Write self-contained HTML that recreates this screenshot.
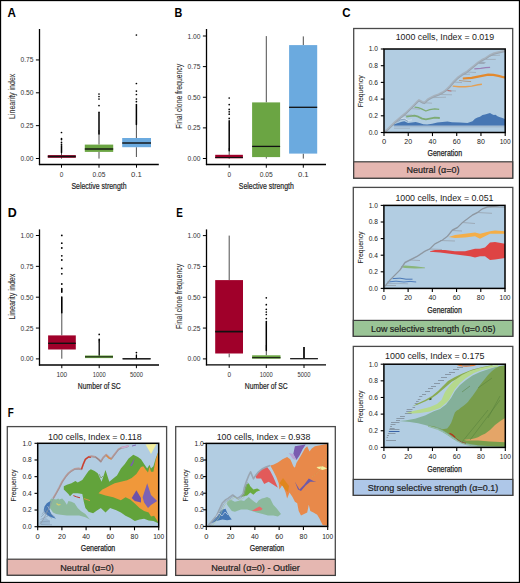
<!DOCTYPE html>
<html><head><meta charset="utf-8"><title>Figure</title>
<style>
html,body{margin:0;padding:0;background:#fff;}
svg{display:block;}
text{font-family:"Liberation Sans",sans-serif;}
</style></head>
<body>
<svg width="520" height="583" viewBox="0 0 520 583">
<rect x="0" y="0" width="520" height="583" fill="#fff"/>
<text x="7.50" y="16.70" font-size="12.0" font-weight="bold" text-anchor="start" fill="#000" textLength="8.40" lengthAdjust="spacingAndGlyphs" >A</text>
<text x="174.60" y="16.50" font-size="12.0" font-weight="bold" text-anchor="start" fill="#000" textLength="7.80" lengthAdjust="spacingAndGlyphs" >B</text>
<text x="342.30" y="16.80" font-size="12.0" font-weight="bold" text-anchor="start" fill="#000" textLength="8.30" lengthAdjust="spacingAndGlyphs" >C</text>
<text x="7.80" y="216.90" font-size="12.0" font-weight="bold" text-anchor="start" fill="#000" textLength="9.00" lengthAdjust="spacingAndGlyphs" >D</text>
<text x="176.20" y="216.90" font-size="12.0" font-weight="bold" text-anchor="start" fill="#000" textLength="6.60" lengthAdjust="spacingAndGlyphs" >E</text>
<text x="7.80" y="417.10" font-size="12.0" font-weight="bold" text-anchor="start" fill="#000" textLength="6.00" lengthAdjust="spacingAndGlyphs" >F</text>
<line x1="39.50" y1="29.00" x2="39.50" y2="165.10" stroke="#000" stroke-width="1.3" />
<line x1="38.90" y1="164.50" x2="158.80" y2="164.50" stroke="#000" stroke-width="1.3" />
<line x1="35.90" y1="59.95" x2="39.50" y2="59.95" stroke="#000" stroke-width="1.0" />
<text x="33.50" y="62.45" font-size="7.7" font-weight="normal" text-anchor="end" fill="#333" textLength="13.00" lengthAdjust="spacingAndGlyphs" >0.75</text>
<line x1="35.90" y1="92.80" x2="39.50" y2="92.80" stroke="#000" stroke-width="1.0" />
<text x="33.50" y="95.30" font-size="7.7" font-weight="normal" text-anchor="end" fill="#333" textLength="13.00" lengthAdjust="spacingAndGlyphs" >0.50</text>
<line x1="35.90" y1="125.65" x2="39.50" y2="125.65" stroke="#000" stroke-width="1.0" />
<text x="33.50" y="128.15" font-size="7.7" font-weight="normal" text-anchor="end" fill="#333" textLength="13.00" lengthAdjust="spacingAndGlyphs" >0.25</text>
<line x1="35.90" y1="158.50" x2="39.50" y2="158.50" stroke="#000" stroke-width="1.0" />
<text x="33.50" y="161.00" font-size="7.7" font-weight="normal" text-anchor="end" fill="#333" textLength="13.00" lengthAdjust="spacingAndGlyphs" >0.00</text>
<line x1="61.50" y1="164.50" x2="61.50" y2="167.70" stroke="#000" stroke-width="1.0" />
<text x="61.50" y="176.80" font-size="7.5" font-weight="normal" text-anchor="middle" fill="#333" textLength="3.60" lengthAdjust="spacingAndGlyphs" >0</text>
<line x1="99.00" y1="164.50" x2="99.00" y2="167.70" stroke="#000" stroke-width="1.0" />
<text x="99.00" y="176.80" font-size="7.5" font-weight="normal" text-anchor="middle" fill="#333" textLength="13.00" lengthAdjust="spacingAndGlyphs" >0.05</text>
<line x1="136.50" y1="164.50" x2="136.50" y2="167.70" stroke="#000" stroke-width="1.0" />
<text x="136.50" y="176.80" font-size="7.5" font-weight="normal" text-anchor="middle" fill="#333" textLength="10.80" lengthAdjust="spacingAndGlyphs" >0.1</text>
<text x="15.00" y="96.30" font-size="9.2" font-weight="normal" text-anchor="middle" fill="#2a2a2a" textLength="45.20" lengthAdjust="spacingAndGlyphs" transform="rotate(-90 15.00 96.30)" stroke="#2a2a2a" stroke-width="0.08">Linearity index</text>
<text x="99.00" y="188.50" font-size="9.0" font-weight="normal" text-anchor="middle" fill="#222" textLength="55.00" lengthAdjust="spacingAndGlyphs" stroke="#222" stroke-width="0.2">Selective strength</text>
<line x1="61.50" y1="150.00" x2="61.50" y2="158.60" stroke="#3a3a3a" stroke-width="0.9" />
<line x1="61.50" y1="145.80" x2="61.50" y2="152.50" stroke="#000" stroke-width="1.5" stroke-linecap="round"/>
<circle cx="61.50" cy="132.50" r="0.85" fill="#000"/>
<circle cx="61.50" cy="138.60" r="0.85" fill="#000"/>
<circle cx="61.50" cy="139.60" r="0.85" fill="#000"/>
<circle cx="61.50" cy="142.40" r="0.85" fill="#000"/>
<circle cx="61.50" cy="144.40" r="0.85" fill="#000"/>
<rect x="47.80" y="155.10" width="28.00" height="2.70" fill="#a0002a" stroke="none" stroke-width="1.0" />
<line x1="47.80" y1="156.50" x2="75.80" y2="156.50" stroke="#111" stroke-width="1.5" />
<line x1="99.00" y1="130.00" x2="99.00" y2="144.60" stroke="#3a3a3a" stroke-width="0.9" />
<line x1="99.00" y1="151.90" x2="99.00" y2="158.60" stroke="#3a3a3a" stroke-width="0.9" />
<line x1="99.00" y1="112.30" x2="99.00" y2="134.10" stroke="#000" stroke-width="1.5" stroke-linecap="round"/>
<circle cx="99.00" cy="94.00" r="0.85" fill="#000"/>
<circle cx="99.00" cy="96.50" r="0.85" fill="#000"/>
<circle cx="99.00" cy="99.00" r="0.85" fill="#000"/>
<circle cx="99.00" cy="105.60" r="0.85" fill="#000"/>
<rect x="84.80" y="144.60" width="28.40" height="7.30" fill="#6ba543" stroke="none" stroke-width="1.0" />
<line x1="84.80" y1="149.00" x2="113.20" y2="149.00" stroke="#111" stroke-width="1.4" />
<line x1="136.40" y1="120.00" x2="136.40" y2="138.00" stroke="#3a3a3a" stroke-width="0.9" />
<line x1="136.40" y1="147.20" x2="136.40" y2="157.00" stroke="#3a3a3a" stroke-width="0.9" />
<line x1="136.40" y1="104.50" x2="136.40" y2="124.60" stroke="#000" stroke-width="1.5" stroke-linecap="round"/>
<circle cx="136.40" cy="35.00" r="0.85" fill="#000"/>
<circle cx="136.40" cy="83.50" r="0.85" fill="#000"/>
<circle cx="136.40" cy="91.10" r="0.85" fill="#000"/>
<circle cx="136.40" cy="94.50" r="0.85" fill="#000"/>
<circle cx="136.40" cy="99.00" r="0.85" fill="#000"/>
<circle cx="136.40" cy="101.70" r="0.85" fill="#000"/>
<rect x="122.20" y="138.00" width="28.80" height="9.20" fill="#6baadf" stroke="none" stroke-width="1.0" />
<line x1="122.20" y1="143.00" x2="151.00" y2="143.00" stroke="#111" stroke-width="1.4" />
<line x1="206.50" y1="29.00" x2="206.50" y2="165.10" stroke="#000" stroke-width="1.3" />
<line x1="205.90" y1="164.50" x2="326.00" y2="164.50" stroke="#000" stroke-width="1.3" />
<line x1="202.90" y1="36.00" x2="206.50" y2="36.00" stroke="#000" stroke-width="1.0" />
<text x="200.50" y="38.50" font-size="7.7" font-weight="normal" text-anchor="end" fill="#333" textLength="13.00" lengthAdjust="spacingAndGlyphs" >1.00</text>
<line x1="202.90" y1="66.62" x2="206.50" y2="66.62" stroke="#000" stroke-width="1.0" />
<text x="200.50" y="69.12" font-size="7.7" font-weight="normal" text-anchor="end" fill="#333" textLength="13.00" lengthAdjust="spacingAndGlyphs" >0.75</text>
<line x1="202.90" y1="97.25" x2="206.50" y2="97.25" stroke="#000" stroke-width="1.0" />
<text x="200.50" y="99.75" font-size="7.7" font-weight="normal" text-anchor="end" fill="#333" textLength="13.00" lengthAdjust="spacingAndGlyphs" >0.50</text>
<line x1="202.90" y1="127.88" x2="206.50" y2="127.88" stroke="#000" stroke-width="1.0" />
<text x="200.50" y="130.38" font-size="7.7" font-weight="normal" text-anchor="end" fill="#333" textLength="13.00" lengthAdjust="spacingAndGlyphs" >0.25</text>
<line x1="202.90" y1="158.50" x2="206.50" y2="158.50" stroke="#000" stroke-width="1.0" />
<text x="200.50" y="161.00" font-size="7.7" font-weight="normal" text-anchor="end" fill="#333" textLength="13.00" lengthAdjust="spacingAndGlyphs" >0.00</text>
<line x1="229.20" y1="164.50" x2="229.20" y2="167.70" stroke="#000" stroke-width="1.0" />
<text x="229.20" y="176.80" font-size="7.5" font-weight="normal" text-anchor="middle" fill="#333" textLength="3.60" lengthAdjust="spacingAndGlyphs" >0</text>
<line x1="266.30" y1="164.50" x2="266.30" y2="167.70" stroke="#000" stroke-width="1.0" />
<text x="266.30" y="176.80" font-size="7.5" font-weight="normal" text-anchor="middle" fill="#333" textLength="13.00" lengthAdjust="spacingAndGlyphs" >0.05</text>
<line x1="303.30" y1="164.50" x2="303.30" y2="167.70" stroke="#000" stroke-width="1.0" />
<text x="303.30" y="176.80" font-size="7.5" font-weight="normal" text-anchor="middle" fill="#333" textLength="10.80" lengthAdjust="spacingAndGlyphs" >0.1</text>
<text x="182.30" y="96.30" font-size="9.2" font-weight="normal" text-anchor="middle" fill="#2a2a2a" textLength="65.00" lengthAdjust="spacingAndGlyphs" transform="rotate(-90 182.30 96.30)" stroke="#2a2a2a" stroke-width="0.08">Final clone frequency</text>
<text x="266.30" y="188.50" font-size="9.0" font-weight="normal" text-anchor="middle" fill="#222" textLength="55.00" lengthAdjust="spacingAndGlyphs" stroke="#222" stroke-width="0.2">Selective strength</text>
<line x1="229.20" y1="148.00" x2="229.20" y2="158.60" stroke="#3a3a3a" stroke-width="0.9" />
<line x1="229.20" y1="120.80" x2="229.20" y2="150.80" stroke="#000" stroke-width="1.5" stroke-linecap="round"/>
<circle cx="229.20" cy="98.00" r="0.85" fill="#000"/>
<circle cx="229.20" cy="104.60" r="0.85" fill="#000"/>
<circle cx="229.20" cy="109.40" r="0.85" fill="#000"/>
<circle cx="229.20" cy="111.80" r="0.85" fill="#000"/>
<circle cx="229.20" cy="114.20" r="0.85" fill="#000"/>
<circle cx="229.20" cy="118.40" r="0.85" fill="#000"/>
<rect x="215.20" y="154.80" width="27.70" height="3.50" fill="#a0002a" stroke="none" stroke-width="1.0" />
<line x1="215.20" y1="157.50" x2="242.90" y2="157.50" stroke="#111" stroke-width="1.1" />
<line x1="266.30" y1="36.10" x2="266.30" y2="102.40" stroke="#3a3a3a" stroke-width="0.9" />
<line x1="266.30" y1="157.10" x2="266.30" y2="158.60" stroke="#3a3a3a" stroke-width="0.9" />
<rect x="252.10" y="102.40" width="28.00" height="54.70" fill="#6ba543" stroke="none" stroke-width="1.0" />
<line x1="252.10" y1="146.40" x2="280.10" y2="146.40" stroke="#111" stroke-width="1.3" />
<line x1="303.30" y1="36.40" x2="303.30" y2="45.10" stroke="#3a3a3a" stroke-width="0.9" />
<line x1="303.30" y1="153.60" x2="303.30" y2="158.60" stroke="#3a3a3a" stroke-width="0.9" />
<rect x="289.10" y="45.10" width="28.10" height="108.50" fill="#6baadf" stroke="none" stroke-width="1.0" />
<line x1="289.10" y1="107.30" x2="317.20" y2="107.30" stroke="#111" stroke-width="1.3" />
<line x1="39.50" y1="229.40" x2="39.50" y2="365.60" stroke="#000" stroke-width="1.3" />
<line x1="38.90" y1="365.00" x2="159.00" y2="365.00" stroke="#000" stroke-width="1.3" />
<line x1="35.90" y1="235.50" x2="39.50" y2="235.50" stroke="#000" stroke-width="1.0" />
<text x="33.50" y="238.00" font-size="7.7" font-weight="normal" text-anchor="end" fill="#333" textLength="13.00" lengthAdjust="spacingAndGlyphs" >1.00</text>
<line x1="35.90" y1="266.35" x2="39.50" y2="266.35" stroke="#000" stroke-width="1.0" />
<text x="33.50" y="268.85" font-size="7.7" font-weight="normal" text-anchor="end" fill="#333" textLength="13.00" lengthAdjust="spacingAndGlyphs" >0.75</text>
<line x1="35.90" y1="297.20" x2="39.50" y2="297.20" stroke="#000" stroke-width="1.0" />
<text x="33.50" y="299.70" font-size="7.7" font-weight="normal" text-anchor="end" fill="#333" textLength="13.00" lengthAdjust="spacingAndGlyphs" >0.50</text>
<line x1="35.90" y1="328.05" x2="39.50" y2="328.05" stroke="#000" stroke-width="1.0" />
<text x="33.50" y="330.55" font-size="7.7" font-weight="normal" text-anchor="end" fill="#333" textLength="13.00" lengthAdjust="spacingAndGlyphs" >0.25</text>
<line x1="35.90" y1="358.90" x2="39.50" y2="358.90" stroke="#000" stroke-width="1.0" />
<text x="33.50" y="361.40" font-size="7.7" font-weight="normal" text-anchor="end" fill="#333" textLength="13.00" lengthAdjust="spacingAndGlyphs" >0.00</text>
<line x1="61.80" y1="365.00" x2="61.80" y2="368.20" stroke="#000" stroke-width="1.0" />
<text x="61.80" y="376.90" font-size="7.5" font-weight="normal" text-anchor="middle" fill="#333" textLength="10.80" lengthAdjust="spacingAndGlyphs" >100</text>
<line x1="99.20" y1="365.00" x2="99.20" y2="368.20" stroke="#000" stroke-width="1.0" />
<text x="99.20" y="376.90" font-size="7.5" font-weight="normal" text-anchor="middle" fill="#333" textLength="13.00" lengthAdjust="spacingAndGlyphs" >1000</text>
<line x1="136.40" y1="365.00" x2="136.40" y2="368.20" stroke="#000" stroke-width="1.0" />
<text x="136.40" y="376.90" font-size="7.5" font-weight="normal" text-anchor="middle" fill="#333" textLength="13.00" lengthAdjust="spacingAndGlyphs" >5000</text>
<text x="15.00" y="296.60" font-size="9.2" font-weight="normal" text-anchor="middle" fill="#2a2a2a" textLength="46.00" lengthAdjust="spacingAndGlyphs" transform="rotate(-90 15.00 296.60)" stroke="#2a2a2a" stroke-width="0.08">Linearity index</text>
<text x="99.30" y="389.30" font-size="9.0" font-weight="normal" text-anchor="middle" fill="#222" textLength="42.90" lengthAdjust="spacingAndGlyphs" stroke="#222" stroke-width="0.2">Number of SC</text>
<line x1="61.80" y1="312.90" x2="61.80" y2="335.40" stroke="#3a3a3a" stroke-width="0.9" />
<line x1="61.80" y1="349.50" x2="61.80" y2="358.70" stroke="#3a3a3a" stroke-width="0.9" />
<line x1="61.80" y1="297.00" x2="61.80" y2="312.80" stroke="#000" stroke-width="1.6" stroke-linecap="round"/>
<line x1="61.80" y1="288.60" x2="61.80" y2="292.20" stroke="#000" stroke-width="1.6" stroke-linecap="round"/>
<circle cx="61.80" cy="235.40" r="0.9" fill="#000"/>
<circle cx="61.80" cy="243.20" r="0.9" fill="#000"/>
<circle cx="61.80" cy="248.00" r="0.9" fill="#000"/>
<circle cx="61.80" cy="255.80" r="0.9" fill="#000"/>
<circle cx="61.80" cy="260.00" r="0.9" fill="#000"/>
<circle cx="61.80" cy="268.40" r="0.9" fill="#000"/>
<circle cx="61.80" cy="273.80" r="0.9" fill="#000"/>
<circle cx="61.80" cy="284.00" r="0.9" fill="#000"/>
<rect x="48.10" y="335.40" width="27.70" height="14.10" fill="#a0002a" stroke="none" stroke-width="1.0" />
<line x1="48.10" y1="343.30" x2="75.80" y2="343.30" stroke="#111" stroke-width="1.4" />
<line x1="99.20" y1="343.00" x2="99.20" y2="355.50" stroke="#000" stroke-width="1.3" stroke-linecap="round"/>
<circle cx="99.20" cy="334.40" r="0.85" fill="#000"/>
<circle cx="99.20" cy="339.40" r="0.85" fill="#000"/>
<circle cx="99.20" cy="340.60" r="0.85" fill="#000"/>
<circle cx="99.20" cy="341.90" r="0.85" fill="#000"/>
<rect x="85.00" y="355.50" width="28.00" height="2.60" fill="#6ba543" stroke="none" stroke-width="1.0" />
<line x1="85.00" y1="356.80" x2="113.00" y2="356.80" stroke="#111" stroke-width="0.9" />
<line x1="136.40" y1="355.00" x2="136.40" y2="358.50" stroke="#000" stroke-width="1.3" stroke-linecap="round"/>
<circle cx="136.40" cy="352.60" r="0.85" fill="#000"/>
<rect x="122.60" y="358.20" width="28.00" height="1.20" fill="#222" stroke="none" stroke-width="1.0" />
<line x1="122.60" y1="358.80" x2="150.60" y2="358.80" stroke="#111" stroke-width="1.0" />
<line x1="206.50" y1="229.40" x2="206.50" y2="365.40" stroke="#000" stroke-width="1.3" />
<line x1="205.90" y1="364.80" x2="326.00" y2="364.80" stroke="#000" stroke-width="1.3" />
<line x1="202.90" y1="235.60" x2="206.50" y2="235.60" stroke="#000" stroke-width="1.0" />
<text x="200.50" y="238.10" font-size="7.7" font-weight="normal" text-anchor="end" fill="#333" textLength="13.00" lengthAdjust="spacingAndGlyphs" >1.00</text>
<line x1="202.90" y1="266.42" x2="206.50" y2="266.42" stroke="#000" stroke-width="1.0" />
<text x="200.50" y="268.92" font-size="7.7" font-weight="normal" text-anchor="end" fill="#333" textLength="13.00" lengthAdjust="spacingAndGlyphs" >0.75</text>
<line x1="202.90" y1="297.25" x2="206.50" y2="297.25" stroke="#000" stroke-width="1.0" />
<text x="200.50" y="299.75" font-size="7.7" font-weight="normal" text-anchor="end" fill="#333" textLength="13.00" lengthAdjust="spacingAndGlyphs" >0.50</text>
<line x1="202.90" y1="328.07" x2="206.50" y2="328.07" stroke="#000" stroke-width="1.0" />
<text x="200.50" y="330.57" font-size="7.7" font-weight="normal" text-anchor="end" fill="#333" textLength="13.00" lengthAdjust="spacingAndGlyphs" >0.25</text>
<line x1="202.90" y1="358.90" x2="206.50" y2="358.90" stroke="#000" stroke-width="1.0" />
<text x="200.50" y="361.40" font-size="7.7" font-weight="normal" text-anchor="end" fill="#333" textLength="13.00" lengthAdjust="spacingAndGlyphs" >0.00</text>
<line x1="229.20" y1="364.80" x2="229.20" y2="368.00" stroke="#000" stroke-width="1.0" />
<text x="229.20" y="376.90" font-size="7.5" font-weight="normal" text-anchor="middle" fill="#333" textLength="3.60" lengthAdjust="spacingAndGlyphs" >0</text>
<line x1="266.30" y1="364.80" x2="266.30" y2="368.00" stroke="#000" stroke-width="1.0" />
<text x="266.30" y="376.90" font-size="7.5" font-weight="normal" text-anchor="middle" fill="#333" textLength="13.00" lengthAdjust="spacingAndGlyphs" >1000</text>
<line x1="304.00" y1="364.80" x2="304.00" y2="368.00" stroke="#000" stroke-width="1.0" />
<text x="304.00" y="376.90" font-size="7.5" font-weight="normal" text-anchor="middle" fill="#333" textLength="13.00" lengthAdjust="spacingAndGlyphs" >5000</text>
<text x="182.30" y="296.40" font-size="9.2" font-weight="normal" text-anchor="middle" fill="#2a2a2a" textLength="65.00" lengthAdjust="spacingAndGlyphs" transform="rotate(-90 182.30 296.40)" stroke="#2a2a2a" stroke-width="0.08">Final clone frequency</text>
<text x="266.30" y="389.30" font-size="9.0" font-weight="normal" text-anchor="middle" fill="#222" textLength="42.90" lengthAdjust="spacingAndGlyphs" stroke="#222" stroke-width="0.2">Number of SC</text>
<line x1="229.20" y1="235.60" x2="229.20" y2="280.10" stroke="#3a3a3a" stroke-width="0.9" />
<line x1="229.20" y1="353.50" x2="229.20" y2="357.30" stroke="#3a3a3a" stroke-width="0.9" />
<rect x="215.20" y="280.10" width="27.80" height="73.40" fill="#a0002a" stroke="none" stroke-width="1.0" />
<line x1="215.20" y1="331.60" x2="243.00" y2="331.60" stroke="#111" stroke-width="1.7" />
<line x1="266.30" y1="345.00" x2="266.30" y2="355.40" stroke="#3a3a3a" stroke-width="0.9" />
<line x1="266.30" y1="321.50" x2="266.30" y2="350.60" stroke="#000" stroke-width="1.5" stroke-linecap="round"/>
<circle cx="266.30" cy="297.80" r="0.85" fill="#000"/>
<circle cx="266.30" cy="304.70" r="0.85" fill="#000"/>
<circle cx="266.30" cy="309.30" r="0.85" fill="#000"/>
<circle cx="266.30" cy="312.00" r="0.85" fill="#000"/>
<circle cx="266.30" cy="314.50" r="0.85" fill="#000"/>
<circle cx="266.30" cy="318.60" r="0.85" fill="#000"/>
<rect x="252.10" y="355.30" width="28.40" height="3.40" fill="#6ba543" stroke="none" stroke-width="1.0" />
<line x1="252.10" y1="357.70" x2="280.50" y2="357.70" stroke="#111" stroke-width="1.0" />
<line x1="304.00" y1="347.00" x2="304.00" y2="358.50" stroke="#111" stroke-width="1.8" />
<rect x="290.20" y="358.20" width="27.70" height="1.00" fill="#555" stroke="none" stroke-width="1.0" />
<line x1="290.20" y1="358.70" x2="317.90" y2="358.70" stroke="#111" stroke-width="1.0" />
<rect x="353.70" y="28.50" width="159.00" height="149.70" fill="#fff" stroke="#4a4a4a" stroke-width="1.3" />
<rect x="353.70" y="161.80" width="159.00" height="16.40" fill="#e5b7b1" stroke="#3d3d3d" stroke-width="1.2" />
<text x="433.00" y="173.10" font-size="8.6" font-weight="normal" text-anchor="middle" fill="#1e1e1e" textLength="53.10" lengthAdjust="spacingAndGlyphs" stroke="#1e1e1e" stroke-width="0.2">Neutral (α=0)</text>
<text x="395.70" y="39.80" font-size="9.2" font-weight="normal" text-anchor="start" fill="#1a1a1a" textLength="98.40" lengthAdjust="spacingAndGlyphs" >1000 cells, Index = 0.019</text>
<rect x="384.00" y="49.00" width="121.20" height="83.50" fill="#b2cde2" stroke="none" stroke-width="1.0" />
<svg x="384.0" y="49.0" width="121.19999999999999" height="83.5" viewBox="384.0 49.0 121.19999999999999 83.5" overflow="hidden">
<polygon points="394.0,125.0 505.2,125.2 505.2,127.4 394.0,127.2" fill="#a3bad0" stroke="none" stroke-width="0.5" />
<line x1="394.00" y1="128.30" x2="410.00" y2="128.30" stroke="#9fb0c2" stroke-width="0.8" />
<polygon points="392.5,124.8 394.2,124.3 398.0,123.1 401.8,121.8 404.3,121.2 408.1,123.1 411.9,122.4 415.7,122.1 419.5,123.1 423.3,124.3 427.1,124.6 432.2,123.7 437.3,122.4 442.4,122.1 447.5,121.5 452.0,122.3 460.0,122.5 467.5,123.0 472.5,121.2 475.0,118.8 477.5,117.5 480.0,116.8 482.5,115.0 485.0,114.5 487.5,113.8 490.0,113.0 492.0,114.2 493.8,115.0 495.5,114.8 497.5,116.2 500.0,117.2 502.5,118.0 505.2,119.2 505.2,125.6 480.0,125.5 450.0,125.4 420.0,125.4 394.0,125.4" fill="#4676b3" stroke="none" stroke-width="0.5" />
<polyline points="414.5,107.2 418.3,107.6 422.1,109.1 425.9,111.0 429.7,109.7 434.8,108.9 439.2,109.4" fill="none" stroke="#7dab74" stroke-width="1.3" stroke-linejoin="round" />
<polyline points="406.2,116.7 409.4,116.1 414.5,115.7 418.3,116.7 422.1,118.6 425.9,119.3 429.7,118.6 434.8,117.7 439.8,118.0" fill="none" stroke="#7dab74" stroke-width="1.8" stroke-linejoin="round" />
<polyline points="396.7,121.2 400.5,118.6 404.3,118.0 408.1,120.5 412.0,119.8" fill="none" stroke="#dfe7ef" stroke-width="0.7" stroke-linejoin="round" />
<polyline points="396.7,122.2 400.5,119.8 404.3,119.3 408.1,121.5" fill="none" stroke="#6d87a8" stroke-width="0.6" stroke-linejoin="round" />
<polyline points="462.8,78.5 471.7,77.8 478.1,76.6 484.4,75.3 488.2,74.6 493.3,74.9 498.4,75.9 503.5,77.2 506.0,77.6" fill="none" stroke="#e2892e" stroke-width="2.2" stroke-linejoin="round" />
<polyline points="452.7,86.1 459.0,86.7 465.4,86.7 471.7,86.1 478.1,84.8 481.9,84.2" fill="none" stroke="#e4a054" stroke-width="1.4" stroke-linejoin="round" />
<polyline points="459.0,80.4 465.0,81.2 471.1,81.6" fill="none" stroke="#b0967e" stroke-width="0.9" stroke-linejoin="round" />
<polyline points="474.3,68.9 480.6,68.3 485.7,67.7 490.1,67.3" fill="none" stroke="#9b7fb5" stroke-width="1.2" stroke-linejoin="round" />
<polygon points="477.0,62.5 482.0,61.5 486.0,62.5 484.0,64.0 479.0,64.0" fill="#9aa8b8" stroke="none" stroke-width="0.5" />
<line x1="485.70" y1="59.40" x2="495.80" y2="59.40" stroke="#9aa4ae" stroke-width="0.7" />
<line x1="462.00" y1="74.50" x2="470.00" y2="74.20" stroke="#9aa4ae" stroke-width="0.7" />
<line x1="466.00" y1="72.00" x2="476.00" y2="72.50" stroke="#9aa4ae" stroke-width="0.7" />
<line x1="431.00" y1="97.70" x2="446.00" y2="97.20" stroke="#9aa4ae" stroke-width="0.7" />
<line x1="438.60" y1="94.50" x2="452.00" y2="94.80" stroke="#9aa4ae" stroke-width="0.7" />
<line x1="410.70" y1="108.60" x2="420.00" y2="109.20" stroke="#9aa4ae" stroke-width="0.7" />
<line x1="403.00" y1="115.50" x2="412.00" y2="115.00" stroke="#9aa4ae" stroke-width="0.7" />
<line x1="422.10" y1="102.60" x2="432.00" y2="103.20" stroke="#9aa4ae" stroke-width="0.7" />
<line x1="490.00" y1="55.60" x2="500.00" y2="55.20" stroke="#9aa4ae" stroke-width="0.7" />
<line x1="446.00" y1="90.50" x2="456.00" y2="91.00" stroke="#9aa4ae" stroke-width="0.7" />
<line x1="454.00" y1="82.00" x2="462.00" y2="82.60" stroke="#9aa4ae" stroke-width="0.7" />
<polyline points="445.0,90.2 448.0,90.6 451.4,91.1" fill="none" stroke="#c0605a" stroke-width="0.9" stroke-linejoin="round" />
<polyline points="385.0,131.5 387.8,129.4 391.6,125.6 395.4,121.8 399.2,118.6 403.0,115.5 406.8,112.3 410.7,108.5 414.5,104.7 417.6,101.5 418.9,100.2 422.1,102.1 424.6,102.8 427.8,99.6 431.0,97.7 434.8,95.8 438.6,94.5 442.4,92.6 446.2,90.1 450.2,86.1 454.0,81.6 457.8,77.8 462.2,74.6 466.6,72.1 470.5,68.9 474.3,65.8 478.1,62.6 481.9,60.1 485.7,58.2 489.5,55.6 493.3,53.7 498.4,52.4 503.5,51.2 506.0,50.8" fill="none" stroke="#a7b2bd" stroke-width="2.3" stroke-linejoin="round" />
<polyline points="385.0,132.3 387.8,130.2 391.6,126.4 395.4,122.6 399.2,119.4 403.0,116.3 406.8,113.1 410.7,109.3 414.5,105.5 417.6,102.3 418.9,101.0 422.1,102.9 424.6,103.6 427.8,100.4 431.0,98.5 434.8,96.6 438.6,95.3 442.4,93.4 446.2,90.9 450.2,86.9 454.0,82.4 457.8,78.6 462.2,75.4 466.6,72.9 470.5,69.7 474.3,66.6 478.1,63.4 481.9,60.9 485.7,59.0 489.5,56.4 493.3,54.5 498.4,53.2 503.5,52.0 506.0,51.6" fill="none" stroke="#8894a0" stroke-width="0.5" stroke-linejoin="round" />
</svg>
<rect x="384.00" y="49.00" width="121.20" height="83.50" fill="none" stroke="#000" stroke-width="1.5" />
<line x1="380.80" y1="132.50" x2="384.00" y2="132.50" stroke="#000" stroke-width="1.1" />
<text x="377.90" y="134.80" font-size="6.6" font-weight="normal" text-anchor="end" fill="#222" textLength="9.20" lengthAdjust="spacingAndGlyphs" >0.0</text>
<line x1="380.80" y1="115.80" x2="384.00" y2="115.80" stroke="#000" stroke-width="1.1" />
<text x="377.90" y="118.10" font-size="6.6" font-weight="normal" text-anchor="end" fill="#222" textLength="9.20" lengthAdjust="spacingAndGlyphs" >0.2</text>
<line x1="380.80" y1="99.10" x2="384.00" y2="99.10" stroke="#000" stroke-width="1.1" />
<text x="377.90" y="101.40" font-size="6.6" font-weight="normal" text-anchor="end" fill="#222" textLength="9.20" lengthAdjust="spacingAndGlyphs" >0.4</text>
<line x1="380.80" y1="82.40" x2="384.00" y2="82.40" stroke="#000" stroke-width="1.1" />
<text x="377.90" y="84.70" font-size="6.6" font-weight="normal" text-anchor="end" fill="#222" textLength="9.20" lengthAdjust="spacingAndGlyphs" >0.6</text>
<line x1="380.80" y1="65.70" x2="384.00" y2="65.70" stroke="#000" stroke-width="1.1" />
<text x="377.90" y="68.00" font-size="6.6" font-weight="normal" text-anchor="end" fill="#222" textLength="9.20" lengthAdjust="spacingAndGlyphs" >0.8</text>
<line x1="380.80" y1="49.00" x2="384.00" y2="49.00" stroke="#000" stroke-width="1.1" />
<text x="377.90" y="51.30" font-size="6.6" font-weight="normal" text-anchor="end" fill="#222" textLength="9.20" lengthAdjust="spacingAndGlyphs" >1.0</text>
<line x1="384.00" y1="132.50" x2="384.00" y2="136.10" stroke="#000" stroke-width="1.1" />
<text x="384.00" y="144.00" font-size="6.8" font-weight="normal" text-anchor="middle" fill="#222" textLength="4.20" lengthAdjust="spacingAndGlyphs" >0</text>
<line x1="408.24" y1="132.50" x2="408.24" y2="136.10" stroke="#000" stroke-width="1.1" />
<text x="408.24" y="144.00" font-size="6.8" font-weight="normal" text-anchor="middle" fill="#222" textLength="7.80" lengthAdjust="spacingAndGlyphs" >20</text>
<line x1="432.48" y1="132.50" x2="432.48" y2="136.10" stroke="#000" stroke-width="1.1" />
<text x="432.48" y="144.00" font-size="6.8" font-weight="normal" text-anchor="middle" fill="#222" textLength="7.80" lengthAdjust="spacingAndGlyphs" >40</text>
<line x1="456.72" y1="132.50" x2="456.72" y2="136.10" stroke="#000" stroke-width="1.1" />
<text x="456.72" y="144.00" font-size="6.8" font-weight="normal" text-anchor="middle" fill="#222" textLength="7.80" lengthAdjust="spacingAndGlyphs" >60</text>
<line x1="480.96" y1="132.50" x2="480.96" y2="136.10" stroke="#000" stroke-width="1.1" />
<text x="480.96" y="144.00" font-size="6.8" font-weight="normal" text-anchor="middle" fill="#222" textLength="7.80" lengthAdjust="spacingAndGlyphs" >80</text>
<line x1="505.20" y1="132.50" x2="505.20" y2="136.10" stroke="#000" stroke-width="1.1" />
<text x="505.20" y="144.00" font-size="6.8" font-weight="normal" text-anchor="middle" fill="#222" textLength="11.00" lengthAdjust="spacingAndGlyphs" >100</text>
<text x="362.60" y="91.35" font-size="7.8" font-weight="normal" text-anchor="middle" fill="#222" textLength="31.80" lengthAdjust="spacingAndGlyphs" transform="rotate(-90 362.60 91.35)" stroke="#222" stroke-width="0.08">Frequency</text>
<text x="444.80" y="156.30" font-size="8.8" font-weight="normal" text-anchor="middle" fill="#222" textLength="34.50" lengthAdjust="spacingAndGlyphs" stroke="#222" stroke-width="0.25">Generation</text>
<rect x="353.30" y="187.40" width="159.50" height="148.90" fill="#fff" stroke="#4a4a4a" stroke-width="1.3" />
<rect x="353.30" y="320.40" width="159.50" height="15.90" fill="#9ac496" stroke="#3d3d3d" stroke-width="1.2" />
<text x="433.20" y="331.80" font-size="8.6" font-weight="normal" text-anchor="middle" fill="#1e1e1e" textLength="124.40" lengthAdjust="spacingAndGlyphs" stroke="#1e1e1e" stroke-width="0.2">Low selective strength (α=0.05)</text>
<text x="395.40" y="200.70" font-size="9.2" font-weight="normal" text-anchor="start" fill="#1a1a1a" textLength="98.10" lengthAdjust="spacingAndGlyphs" >1000 cells, Index = 0.051</text>
<rect x="383.90" y="205.40" width="121.10" height="83.00" fill="#b2cde2" stroke="none" stroke-width="1.0" />
<svg x="383.9" y="205.4" width="121.10000000000002" height="82.99999999999997" viewBox="383.9 205.4 121.10000000000002 82.99999999999997" overflow="hidden">
<polygon points="430.0,251.2 435.0,250.0 445.0,250.0 455.0,251.2 465.0,251.2 475.0,248.8 480.0,248.8 485.0,247.5 490.0,242.5 495.0,242.0 505.0,243.8 505.0,258.0 495.0,259.5 490.0,260.0 485.0,256.2 480.0,256.2 475.0,257.5 470.0,256.2 460.0,255.0 450.0,253.8 440.0,252.5 430.0,251.8" fill="#de4444" stroke="none" stroke-width="0.5" />
<polygon points="448.8,237.0 455.0,235.0 465.0,233.8 475.0,232.5 480.0,233.8 490.0,231.2 495.0,230.5 505.0,231.2 505.0,233.8 490.0,233.8 480.0,238.8 475.0,236.2 465.0,237.5 455.0,238.0" fill="#f4ae48" stroke="none" stroke-width="0.5" />
<polygon points="401.2,266.2 405.0,265.5 415.0,266.2 425.0,267.5 425.0,268.3 415.0,268.5 405.0,268.0 401.2,267.2" fill="#8ab57a" stroke="none" stroke-width="0.5" />
<polyline points="392.5,278.6 400.0,278.2 406.0,279.2 412.5,279.2" fill="none" stroke="#3d6db0" stroke-width="0.9" stroke-linejoin="round" />
<polyline points="387.5,282.0 396.0,281.2 404.0,282.0 410.0,281.4 416.2,282.0" fill="none" stroke="#4575b8" stroke-width="0.9" stroke-linejoin="round" />
<polyline points="388.0,283.6 398.0,283.4 408.0,283.8" fill="none" stroke="#8ea0b4" stroke-width="0.6" stroke-linejoin="round" />
<line x1="440.00" y1="240.50" x2="455.00" y2="241.00" stroke="#98a2ad" stroke-width="0.8" />
<line x1="462.50" y1="222.50" x2="475.00" y2="223.50" stroke="#98a2ad" stroke-width="0.8" />
<line x1="477.50" y1="212.50" x2="492.00" y2="213.30" stroke="#98a2ad" stroke-width="0.8" />
<line x1="490.00" y1="207.00" x2="505.00" y2="207.50" stroke="#98a2ad" stroke-width="0.8" />
<line x1="430.00" y1="249.00" x2="442.00" y2="249.50" stroke="#98a2ad" stroke-width="0.8" />
<line x1="410.00" y1="260.00" x2="420.00" y2="260.50" stroke="#98a2ad" stroke-width="0.8" />
<line x1="386.00" y1="285.50" x2="396.00" y2="285.50" stroke="#98a2ad" stroke-width="0.8" />
<line x1="452.50" y1="230.50" x2="462.00" y2="231.00" stroke="#98a2ad" stroke-width="0.8" />
<polyline points="385.0,286.2 390.0,280.0 395.0,275.0 400.0,270.0 405.0,262.5 410.0,260.0 417.5,256.2 425.0,251.2 430.0,248.8 435.0,243.8 442.5,240.0 447.5,236.2 452.5,230.0 457.5,227.5 462.5,222.5 467.5,218.8 472.5,215.0 477.5,212.5 482.5,208.8 487.5,207.0 495.0,206.2 498.8,205.5" fill="none" stroke="#9aa4ae" stroke-width="1.4" stroke-linejoin="round" />
<polyline points="385.0,286.2 390.0,280.0 395.0,275.0 400.0,270.0 405.0,262.5 410.0,260.0 417.5,256.2 425.0,251.2 430.0,248.8 435.0,243.8 442.5,240.0 447.5,236.2 452.5,230.0 457.5,227.5 462.5,222.5 467.5,218.8 472.5,215.0 477.5,212.5 482.5,208.8 487.5,207.0 495.0,206.2 498.8,205.5" fill="none" stroke="#7e8a96" stroke-width="0.5" stroke-linejoin="round" />
</svg>
<rect x="383.90" y="205.40" width="121.10" height="83.00" fill="none" stroke="#000" stroke-width="1.5" />
<line x1="380.70" y1="288.40" x2="383.90" y2="288.40" stroke="#000" stroke-width="1.1" />
<text x="377.90" y="290.70" font-size="6.6" font-weight="normal" text-anchor="end" fill="#222" textLength="9.20" lengthAdjust="spacingAndGlyphs" >0.0</text>
<line x1="380.70" y1="271.80" x2="383.90" y2="271.80" stroke="#000" stroke-width="1.1" />
<text x="377.90" y="274.10" font-size="6.6" font-weight="normal" text-anchor="end" fill="#222" textLength="9.20" lengthAdjust="spacingAndGlyphs" >0.2</text>
<line x1="380.70" y1="255.20" x2="383.90" y2="255.20" stroke="#000" stroke-width="1.1" />
<text x="377.90" y="257.50" font-size="6.6" font-weight="normal" text-anchor="end" fill="#222" textLength="9.20" lengthAdjust="spacingAndGlyphs" >0.4</text>
<line x1="380.70" y1="238.60" x2="383.90" y2="238.60" stroke="#000" stroke-width="1.1" />
<text x="377.90" y="240.90" font-size="6.6" font-weight="normal" text-anchor="end" fill="#222" textLength="9.20" lengthAdjust="spacingAndGlyphs" >0.6</text>
<line x1="380.70" y1="222.00" x2="383.90" y2="222.00" stroke="#000" stroke-width="1.1" />
<text x="377.90" y="224.30" font-size="6.6" font-weight="normal" text-anchor="end" fill="#222" textLength="9.20" lengthAdjust="spacingAndGlyphs" >0.8</text>
<line x1="380.70" y1="205.40" x2="383.90" y2="205.40" stroke="#000" stroke-width="1.1" />
<text x="377.90" y="207.70" font-size="6.6" font-weight="normal" text-anchor="end" fill="#222" textLength="9.20" lengthAdjust="spacingAndGlyphs" >1.0</text>
<line x1="383.90" y1="288.40" x2="383.90" y2="292.00" stroke="#000" stroke-width="1.1" />
<text x="383.90" y="299.90" font-size="6.8" font-weight="normal" text-anchor="middle" fill="#222" textLength="4.20" lengthAdjust="spacingAndGlyphs" >0</text>
<line x1="408.12" y1="288.40" x2="408.12" y2="292.00" stroke="#000" stroke-width="1.1" />
<text x="408.12" y="299.90" font-size="6.8" font-weight="normal" text-anchor="middle" fill="#222" textLength="7.80" lengthAdjust="spacingAndGlyphs" >20</text>
<line x1="432.34" y1="288.40" x2="432.34" y2="292.00" stroke="#000" stroke-width="1.1" />
<text x="432.34" y="299.90" font-size="6.8" font-weight="normal" text-anchor="middle" fill="#222" textLength="7.80" lengthAdjust="spacingAndGlyphs" >40</text>
<line x1="456.56" y1="288.40" x2="456.56" y2="292.00" stroke="#000" stroke-width="1.1" />
<text x="456.56" y="299.90" font-size="6.8" font-weight="normal" text-anchor="middle" fill="#222" textLength="7.80" lengthAdjust="spacingAndGlyphs" >60</text>
<line x1="480.78" y1="288.40" x2="480.78" y2="292.00" stroke="#000" stroke-width="1.1" />
<text x="480.78" y="299.90" font-size="6.8" font-weight="normal" text-anchor="middle" fill="#222" textLength="7.80" lengthAdjust="spacingAndGlyphs" >80</text>
<line x1="505.00" y1="288.40" x2="505.00" y2="292.00" stroke="#000" stroke-width="1.1" />
<text x="505.00" y="299.90" font-size="6.8" font-weight="normal" text-anchor="middle" fill="#222" textLength="11.00" lengthAdjust="spacingAndGlyphs" >100</text>
<text x="362.60" y="247.50" font-size="7.8" font-weight="normal" text-anchor="middle" fill="#222" textLength="31.80" lengthAdjust="spacingAndGlyphs" transform="rotate(-90 362.60 247.50)" stroke="#222" stroke-width="0.08">Frequency</text>
<text x="444.60" y="312.60" font-size="8.8" font-weight="normal" text-anchor="middle" fill="#222" textLength="34.50" lengthAdjust="spacingAndGlyphs" stroke="#222" stroke-width="0.25">Generation</text>
<rect x="353.30" y="346.40" width="159.50" height="148.90" fill="#fff" stroke="#4a4a4a" stroke-width="1.3" />
<rect x="353.30" y="479.40" width="159.50" height="15.90" fill="#aec7e8" stroke="#3d3d3d" stroke-width="1.2" />
<text x="433.00" y="490.80" font-size="8.6" font-weight="normal" text-anchor="middle" fill="#1e1e1e" textLength="130.50" lengthAdjust="spacingAndGlyphs" stroke="#1e1e1e" stroke-width="0.2">Strong selective strength (α=0.1)</text>
<text x="385.10" y="359.20" font-size="9.2" font-weight="normal" text-anchor="start" fill="#1a1a1a" textLength="99.30" lengthAdjust="spacingAndGlyphs" >1000 cells, Index = 0.175</text>
<rect x="383.90" y="364.20" width="121.40" height="83.20" fill="#b2cde2" stroke="none" stroke-width="1.0" />
<svg x="383.9" y="364.2" width="121.40000000000003" height="83.19999999999999" viewBox="383.9 364.2 121.40000000000003 83.19999999999999" overflow="hidden">
<polygon points="399.0,420.9 405.0,420.6 415.0,418.8 425.0,415.5 433.8,411.2 440.0,409.0 446.0,404.5 451.0,398.0 455.0,391.0 460.0,385.0 466.0,380.0 472.5,375.5 480.0,372.0 487.5,369.5 495.0,367.0 503.8,365.5 505.3,365.0 505.3,447.3 478.0,446.0 471.3,445.2 466.5,444.2 461.7,442.8 456.8,440.4 452.0,437.5 447.2,434.1 442.4,431.2 437.6,428.8 428.0,425.8 418.0,423.3 410.0,422.0 399.0,421.1" fill="#84b09a" stroke="none" stroke-width="0.5" />
<polygon points="426.0,425.3 433.8,426.2 437.6,427.5 442.4,429.2 447.2,428.4 449.2,426.0 451.1,423.1 452.5,419.2 453.5,416.3 454.9,412.5 456.8,410.6 458.8,409.6 460.7,407.7 463.6,405.8 466.0,403.8 467.9,401.9 469.3,400.0 472.5,396.0 476.0,391.0 480.0,385.0 484.0,380.0 488.0,375.0 492.0,371.0 496.0,368.0 500.0,366.0 505.3,365.5 505.3,447.3 478.0,445.2 471.3,444.2 466.5,443.2 461.7,441.6 456.8,439.2 452.0,436.3 447.2,432.9 442.4,430.0 437.6,427.8 430.0,426.0" fill="#789d4c" stroke="none" stroke-width="0.5" />
<polygon points="463.6,439.8 468.0,439.5 472.0,439.0 475.0,438.2 478.0,437.3 482.0,435.0 485.0,433.8 490.0,430.0 495.0,425.0 500.0,421.2 503.8,418.8 505.3,418.0 505.3,442.3 490.0,441.5 478.0,440.6 466.5,440.4" fill="#e4a568" stroke="none" stroke-width="0.5" />
<polyline points="428.0,426.3 437.6,429.3 442.4,431.7 447.2,434.6 452.0,438.0 456.8,440.9 461.7,443.3 466.5,444.7 471.3,445.7 478.0,446.5 505.3,447.0" fill="none" stroke="#8cb890" stroke-width="0.9" stroke-linejoin="round" />
<polygon points="412.5,406.2 417.5,403.5 425.0,400.0 432.0,396.0 438.0,391.0 443.0,386.0 448.0,381.0 455.0,377.0 462.5,373.5 472.5,369.5 482.5,367.0 492.5,365.0 492.5,366.3 483.0,368.5 473.0,371.5 465.0,375.0 458.0,378.5 452.0,381.5 448.0,385.0 444.0,388.5 441.0,391.0 437.0,394.5 432.0,398.0 425.0,401.6 417.5,404.8" fill="#8aab52" stroke="none" stroke-width="0.5" />
<line x1="429.50" y1="399.60" x2="431.50" y2="398.60" stroke="#2d4a1a" stroke-width="1.2" />
<polygon points="405.3,413.5 410.0,411.8 420.0,409.5 430.0,407.0 437.0,404.0 441.5,400.0 445.0,392.0 450.0,385.0 455.0,380.0 462.0,375.0 470.0,371.0 480.0,368.0 490.0,366.0 498.0,365.0 498.0,366.5 490.0,368.0 482.0,370.0 474.0,373.0 466.0,378.0 460.0,383.0 455.0,389.0 451.0,396.0 449.0,400.0 446.0,403.0 440.0,408.0 430.0,411.5 420.0,413.0 410.0,413.8" fill="#b5d98d" stroke="none" stroke-width="0.5" />
<polygon points="455.0,364.2 478.0,364.2 474.0,366.0 466.0,366.8 460.0,366.2" fill="#e07a3a" stroke="none" stroke-width="0.5" />
<polyline points="449.5,433.2 452.0,434.6 455.0,437.2" fill="none" stroke="#b5321a" stroke-width="1.3" stroke-linejoin="round" />
<polyline points="455.0,437.2 457.0,439.4 461.7,442.1 466.0,443.3" fill="none" stroke="#8a4a20" stroke-width="0.8" stroke-linejoin="round" />
<line x1="386.10" y1="440.50" x2="396.00" y2="440.50" stroke="#7d8a98" stroke-width="0.8" />
<line x1="386.60" y1="437.50" x2="388.00" y2="437.50" stroke="#7d8a98" stroke-width="0.8" />
<line x1="387.00" y1="435.50" x2="389.00" y2="435.50" stroke="#7d8a98" stroke-width="0.8" />
<line x1="387.90" y1="433.50" x2="395.50" y2="433.50" stroke="#7d8a98" stroke-width="0.8" />
<line x1="389.30" y1="429.50" x2="399.50" y2="429.50" stroke="#7d8a98" stroke-width="0.8" />
<line x1="389.70" y1="428.50" x2="394.60" y2="428.50" stroke="#7d8a98" stroke-width="0.8" />
<line x1="390.10" y1="426.50" x2="392.00" y2="426.50" stroke="#7d8a98" stroke-width="0.8" />
<line x1="390.60" y1="424.50" x2="395.50" y2="424.50" stroke="#7d8a98" stroke-width="0.8" />
<line x1="391.00" y1="422.50" x2="399.50" y2="422.50" stroke="#7d8a98" stroke-width="0.8" />
<line x1="396.00" y1="420.50" x2="400.00" y2="420.50" stroke="#7d8a98" stroke-width="0.8" />
<line x1="396.40" y1="418.50" x2="404.40" y2="418.50" stroke="#7d8a98" stroke-width="0.8" />
<line x1="400.00" y1="416.50" x2="404.90" y2="416.50" stroke="#7d8a98" stroke-width="0.8" />
<line x1="404.90" y1="413.50" x2="411.60" y2="413.50" stroke="#7d8a98" stroke-width="0.8" />
<line x1="406.20" y1="411.50" x2="411.60" y2="411.50" stroke="#7d8a98" stroke-width="0.8" />
<line x1="406.70" y1="409.50" x2="412.50" y2="409.50" stroke="#7d8a98" stroke-width="0.8" />
<line x1="412.50" y1="407.50" x2="415.10" y2="407.50" stroke="#7d8a98" stroke-width="0.8" />
<line x1="414.70" y1="403.50" x2="417.80" y2="403.50" stroke="#7d8a98" stroke-width="0.8" />
<line x1="416.00" y1="401.50" x2="418.70" y2="401.50" stroke="#7d8a98" stroke-width="0.8" />
<line x1="417.80" y1="399.50" x2="420.50" y2="399.50" stroke="#7d8a98" stroke-width="0.8" />
<line x1="419.20" y1="396.50" x2="422.30" y2="396.50" stroke="#7d8a98" stroke-width="0.8" />
<line x1="422.00" y1="394.50" x2="426.00" y2="394.50" stroke="#7d8a98" stroke-width="0.8" />
<line x1="425.00" y1="391.50" x2="430.00" y2="391.50" stroke="#7d8a98" stroke-width="0.8" />
<line x1="428.00" y1="388.50" x2="433.00" y2="388.50" stroke="#7d8a98" stroke-width="0.8" />
<line x1="431.00" y1="386.50" x2="436.00" y2="386.50" stroke="#7d8a98" stroke-width="0.8" />
<line x1="434.00" y1="383.50" x2="440.00" y2="383.50" stroke="#7d8a98" stroke-width="0.8" />
<line x1="438.00" y1="380.50" x2="444.00" y2="380.50" stroke="#7d8a98" stroke-width="0.8" />
<line x1="441.00" y1="377.50" x2="447.00" y2="377.50" stroke="#7d8a98" stroke-width="0.8" />
<line x1="445.00" y1="374.50" x2="451.00" y2="374.50" stroke="#7d8a98" stroke-width="0.8" />
<line x1="449.00" y1="372.50" x2="455.00" y2="372.50" stroke="#7d8a98" stroke-width="0.8" />
<line x1="453.00" y1="369.50" x2="459.00" y2="369.50" stroke="#7d8a98" stroke-width="0.8" />
<line x1="457.00" y1="367.50" x2="463.00" y2="367.50" stroke="#7d8a98" stroke-width="0.8" />
<line x1="462.00" y1="365.50" x2="470.00" y2="365.50" stroke="#7d8a98" stroke-width="0.8" />
<line x1="388.80" y1="431.50" x2="399.50" y2="431.50" stroke="#3a64a6" stroke-width="1.0" />
<line x1="462.00" y1="442.00" x2="488.00" y2="410.00" stroke="#557f3a" stroke-width="0.5" />
<line x1="470.00" y1="440.00" x2="500.00" y2="400.00" stroke="#557f3a" stroke-width="0.5" />
<line x1="488.00" y1="418.00" x2="500.00" y2="396.00" stroke="#557f3a" stroke-width="0.5" />
<line x1="478.00" y1="388.00" x2="492.00" y2="378.00" stroke="#557f3a" stroke-width="0.5" />
<line x1="462.00" y1="392.00" x2="470.00" y2="386.00" stroke="#557f3a" stroke-width="0.5" />
</svg>
<rect x="383.90" y="364.20" width="121.40" height="83.20" fill="none" stroke="#000" stroke-width="1.5" />
<line x1="380.70" y1="447.40" x2="383.90" y2="447.40" stroke="#000" stroke-width="1.1" />
<text x="377.90" y="449.70" font-size="6.6" font-weight="normal" text-anchor="end" fill="#222" textLength="9.20" lengthAdjust="spacingAndGlyphs" >0.0</text>
<line x1="380.70" y1="430.76" x2="383.90" y2="430.76" stroke="#000" stroke-width="1.1" />
<text x="377.90" y="433.06" font-size="6.6" font-weight="normal" text-anchor="end" fill="#222" textLength="9.20" lengthAdjust="spacingAndGlyphs" >0.2</text>
<line x1="380.70" y1="414.12" x2="383.90" y2="414.12" stroke="#000" stroke-width="1.1" />
<text x="377.90" y="416.42" font-size="6.6" font-weight="normal" text-anchor="end" fill="#222" textLength="9.20" lengthAdjust="spacingAndGlyphs" >0.4</text>
<line x1="380.70" y1="397.48" x2="383.90" y2="397.48" stroke="#000" stroke-width="1.1" />
<text x="377.90" y="399.78" font-size="6.6" font-weight="normal" text-anchor="end" fill="#222" textLength="9.20" lengthAdjust="spacingAndGlyphs" >0.6</text>
<line x1="380.70" y1="380.84" x2="383.90" y2="380.84" stroke="#000" stroke-width="1.1" />
<text x="377.90" y="383.14" font-size="6.6" font-weight="normal" text-anchor="end" fill="#222" textLength="9.20" lengthAdjust="spacingAndGlyphs" >0.8</text>
<line x1="380.70" y1="364.20" x2="383.90" y2="364.20" stroke="#000" stroke-width="1.1" />
<text x="377.90" y="366.50" font-size="6.6" font-weight="normal" text-anchor="end" fill="#222" textLength="9.20" lengthAdjust="spacingAndGlyphs" >1.0</text>
<line x1="383.90" y1="447.40" x2="383.90" y2="451.00" stroke="#000" stroke-width="1.1" />
<text x="383.90" y="459.00" font-size="6.8" font-weight="normal" text-anchor="middle" fill="#222" textLength="4.20" lengthAdjust="spacingAndGlyphs" >0</text>
<line x1="408.18" y1="447.40" x2="408.18" y2="451.00" stroke="#000" stroke-width="1.1" />
<text x="408.18" y="459.00" font-size="6.8" font-weight="normal" text-anchor="middle" fill="#222" textLength="7.80" lengthAdjust="spacingAndGlyphs" >20</text>
<line x1="432.46" y1="447.40" x2="432.46" y2="451.00" stroke="#000" stroke-width="1.1" />
<text x="432.46" y="459.00" font-size="6.8" font-weight="normal" text-anchor="middle" fill="#222" textLength="7.80" lengthAdjust="spacingAndGlyphs" >40</text>
<line x1="456.74" y1="447.40" x2="456.74" y2="451.00" stroke="#000" stroke-width="1.1" />
<text x="456.74" y="459.00" font-size="6.8" font-weight="normal" text-anchor="middle" fill="#222" textLength="7.80" lengthAdjust="spacingAndGlyphs" >60</text>
<line x1="481.02" y1="447.40" x2="481.02" y2="451.00" stroke="#000" stroke-width="1.1" />
<text x="481.02" y="459.00" font-size="6.8" font-weight="normal" text-anchor="middle" fill="#222" textLength="7.80" lengthAdjust="spacingAndGlyphs" >80</text>
<line x1="505.30" y1="447.40" x2="505.30" y2="451.00" stroke="#000" stroke-width="1.1" />
<text x="505.30" y="459.00" font-size="6.8" font-weight="normal" text-anchor="middle" fill="#222" textLength="11.00" lengthAdjust="spacingAndGlyphs" >100</text>
<text x="362.60" y="406.40" font-size="7.8" font-weight="normal" text-anchor="middle" fill="#222" textLength="31.80" lengthAdjust="spacingAndGlyphs" transform="rotate(-90 362.60 406.40)" stroke="#222" stroke-width="0.08">Frequency</text>
<text x="444.60" y="471.60" font-size="8.8" font-weight="normal" text-anchor="middle" fill="#222" textLength="34.50" lengthAdjust="spacingAndGlyphs" stroke="#222" stroke-width="0.25">Generation</text>
<rect x="7.30" y="426.60" width="159.30" height="148.60" fill="#fff" stroke="#4a4a4a" stroke-width="1.3" />
<rect x="7.30" y="559.20" width="159.30" height="16.00" fill="#e5b7b1" stroke="#3d3d3d" stroke-width="1.2" />
<text x="87.00" y="570.80" font-size="8.6" font-weight="normal" text-anchor="middle" fill="#1e1e1e" textLength="53.50" lengthAdjust="spacingAndGlyphs" stroke="#1e1e1e" stroke-width="0.2">Neutral (α=0)</text>
<text x="48.10" y="439.90" font-size="9.2" font-weight="normal" text-anchor="start" fill="#1a1a1a" textLength="93.50" lengthAdjust="spacingAndGlyphs" >100 cells, Index = 0.118</text>
<rect x="37.70" y="443.30" width="121.00" height="83.40" fill="#b2cde2" stroke="none" stroke-width="1.0" />
<svg x="37.7" y="443.3" width="120.99999999999999" height="83.40000000000003" viewBox="37.7 443.3 120.99999999999999 83.40000000000003" overflow="hidden">
<polygon points="63.8,486.3 66.9,484.8 71.5,483.2 75.4,480.9 77.7,482.4 82.3,480.1 85.4,475.5 88.5,470.9 90.8,469.3 94.6,470.9 97.7,473.2 101.6,481.7 105.5,470.1 109.3,481.7 113.2,478.6 117.0,475.5 120.9,468.6 124.8,464.0 128.6,458.5 133.3,454.7 137.9,457.0 141.0,459.3 144.1,464.0 147.2,468.6 149.5,464.7 151.0,468.6 153.4,466.3 155.7,458.5 158.0,452.4 158.7,451.0 158.7,523.5 153.4,521.1 148.7,520.4 144.1,518.8 139.5,519.6 134.8,521.1 130.2,518.0 125.5,515.7 120.9,512.6 116.3,510.3 110.1,508.0 105.5,512.6 100.8,508.0 96.2,511.1 93.1,513.3 88.5,511.8 85.4,507.9 83.8,501.7 82.3,494.0 77.7,493.2 73.0,493.2 70.0,496.3 68.4,494.0 63.8,489.4" fill="#62a33b" stroke="none" stroke-width="0.5" />
<polygon points="98.5,493.3 102.4,489.5 105.5,487.9 110.1,485.6 114.7,483.3 120.9,481.7 127.1,480.2 131.7,477.9 136.4,474.0 141.0,467.0 143.3,466.3 145.6,469.4 148.0,472.5 149.5,467.0 151.0,471.7 153.4,471.7 155.7,460.1 158.0,452.4 158.7,451.0 158.7,522.5 158.0,521.9 154.1,515.7 151.0,516.5 148.7,512.6 144.1,511.1 139.5,508.0 134.8,503.4 130.2,499.5 125.5,497.2 120.9,500.3 117.0,498.7 113.2,497.2 105.5,495.6" fill="#f0983a" stroke="none" stroke-width="0.5" />
<polygon points="142.6,497.2 147.2,483.3 151.0,494.9 157.2,501.0 151.0,504.9 148.0,508.0 144.1,502.6" fill="#7c62b5" stroke="none" stroke-width="0.5" />
<polygon points="131.7,498.0 136.4,490.2 141.0,498.0 141.0,502.6 134.8,501.0" fill="#6e52a8" stroke="none" stroke-width="0.5" />
<polygon points="127.9,464.7 130.2,465.5 134.8,457.8 133.3,463.2 131.7,466.3" fill="#7a5cb0" stroke="none" stroke-width="0.5" />
<polygon points="49.9,500.2 51.4,498.6 56.1,499.4 58.4,498.6 59.1,499.4 62.2,498.6 64.5,501.0 66.9,504.8 68.4,501.0 71.5,501.7 74.6,503.3 77.7,507.9 80.8,511.0 85.4,514.1 89.2,518.7 91.6,520.2 85.4,517.2 79.2,515.6 73.0,515.6 66.9,515.6 60.7,514.8 56.1,514.1 53.0,512.5 49.9,507.9" fill="#8cb99c" stroke="none" stroke-width="0.5" />
<polygon points="44.5,506.4 46.8,503.3 49.1,501.7 50.7,501.0 49.9,504.8 49.9,511.0 51.4,514.1 53.7,516.4 56.1,518.7 51.4,517.2 47.6,515.6 45.3,513.3 43.7,510.2" fill="#4577b5" stroke="none" stroke-width="0.5" />
<polygon points="39.5,522.5 43.0,519.0 46.0,518.0 50.0,521.0 50.0,524.2 44.0,524.5 39.5,525.0" fill="#9db9d2" stroke="none" stroke-width="0.5" />
<line x1="40.00" y1="522.00" x2="50.00" y2="521.00" stroke="#7c93ad" stroke-width="0.5" />
<line x1="40.50" y1="519.50" x2="48.00" y2="516.00" stroke="#7c93ad" stroke-width="0.5" />
<line x1="41.00" y1="517.00" x2="47.00" y2="511.00" stroke="#7c93ad" stroke-width="0.5" />
<line x1="42.00" y1="514.50" x2="46.50" y2="507.50" stroke="#7c93ad" stroke-width="0.5" />
<line x1="41.00" y1="524.50" x2="52.00" y2="524.80" stroke="#7c93ad" stroke-width="0.5" />
<line x1="44.00" y1="512.00" x2="52.00" y2="518.50" stroke="#7c93ad" stroke-width="0.5" />
<line x1="45.00" y1="510.00" x2="55.00" y2="517.00" stroke="#7c93ad" stroke-width="0.5" />
<polyline points="47.5,506.0 50.0,510.0 53.0,514.5" fill="none" stroke="#c8d8ea" stroke-width="0.6" stroke-linejoin="round" />
<polyline points="73.4,495.6 76.5,496.8 80.0,497.8" fill="none" stroke="#c0392b" stroke-width="1.0" stroke-linejoin="round" />
<polyline points="84.0,498.6 87.0,499.6 90.0,500.6" fill="none" stroke="#e0904a" stroke-width="0.9" stroke-linejoin="round" />
<polyline points="99.0,474.0 101.0,478.0 103.0,476.0" fill="none" stroke="#6a8a3a" stroke-width="0.6" stroke-linejoin="round" />
<polyline points="56.5,503.5 58.5,505.0 60.5,504.5" fill="none" stroke="#d9d06a" stroke-width="1.2" stroke-linejoin="round" />
<polygon points="145.6,444.5 156.5,443.8 151.0,453.9" fill="#f3ef9e" stroke="none" stroke-width="0.5" />
<polyline points="53.1,498.5 56.2,493.1 59.2,487.7 62.3,481.5 65.4,476.9 68.5,473.1 71.5,470.8 74.6,468.9 78.5,468.5 81.5,469.2 83.1,464.6 85.4,459.2 88.5,456.9 91.5,456.2 95.4,456.9 98.5,459.2 100.8,461.5 103.1,457.7 106.2,454.6 109.2,457.7 111.5,458.5 113.8,455.4 116.2,452.3 118.5,449.2 121.5,447.7 125.4,446.9 128.5,445.8" fill="none" stroke="#b79a98" stroke-width="1.8" stroke-linejoin="round" />
<polyline points="53.1,499.2 56.2,493.8 59.2,488.4 62.3,482.2 65.4,477.6 68.5,473.8 71.5,471.5 74.6,469.6 78.5,469.2 81.5,469.9 83.1,465.3 85.4,459.9 88.5,457.6 91.5,456.9 95.4,457.6 98.5,459.9 100.8,462.2 103.1,458.4 106.2,455.3 109.2,458.4 111.5,459.2 113.8,456.1 116.2,453.0 118.5,449.9 121.5,448.4 125.4,447.6 128.5,446.5" fill="none" stroke="#8e8a96" stroke-width="0.5" stroke-linejoin="round" />
<polyline points="81.5,469.2 83.1,464.6 85.4,459.2 88.5,456.9 90.8,457.3" fill="none" stroke="#d03a2a" stroke-width="1.3" stroke-linejoin="round" />
<polyline points="95.4,456.9 98.5,459.2 100.8,461.5" fill="none" stroke="#8a7a7a" stroke-width="0.8" stroke-linejoin="round" />
<polyline points="106.2,455.5 109.2,458.3 111.5,459.2" fill="none" stroke="#e08a40" stroke-width="1.2" stroke-linejoin="round" />
<polyline points="121.5,447.7 125.4,446.9 128.5,445.8" fill="none" stroke="#c9a8d0" stroke-width="1.6" stroke-linejoin="round" />
<polyline points="40.5,524.0 44.0,518.0 47.0,512.0 50.5,505.0 53.1,498.5" fill="none" stroke="#8e9aa6" stroke-width="0.7" stroke-linejoin="round" />
<line x1="132.00" y1="446.00" x2="136.00" y2="445.00" stroke="#7a5cb0" stroke-width="0.9" />
</svg>
<rect x="37.70" y="443.30" width="121.00" height="83.40" fill="none" stroke="#000" stroke-width="1.5" />
<line x1="34.50" y1="526.70" x2="37.70" y2="526.70" stroke="#000" stroke-width="1.1" />
<text x="31.70" y="529.00" font-size="6.6" font-weight="normal" text-anchor="end" fill="#222" textLength="9.20" lengthAdjust="spacingAndGlyphs" >0.0</text>
<line x1="34.50" y1="510.02" x2="37.70" y2="510.02" stroke="#000" stroke-width="1.1" />
<text x="31.70" y="512.32" font-size="6.6" font-weight="normal" text-anchor="end" fill="#222" textLength="9.20" lengthAdjust="spacingAndGlyphs" >0.2</text>
<line x1="34.50" y1="493.34" x2="37.70" y2="493.34" stroke="#000" stroke-width="1.1" />
<text x="31.70" y="495.64" font-size="6.6" font-weight="normal" text-anchor="end" fill="#222" textLength="9.20" lengthAdjust="spacingAndGlyphs" >0.4</text>
<line x1="34.50" y1="476.66" x2="37.70" y2="476.66" stroke="#000" stroke-width="1.1" />
<text x="31.70" y="478.96" font-size="6.6" font-weight="normal" text-anchor="end" fill="#222" textLength="9.20" lengthAdjust="spacingAndGlyphs" >0.6</text>
<line x1="34.50" y1="459.98" x2="37.70" y2="459.98" stroke="#000" stroke-width="1.1" />
<text x="31.70" y="462.28" font-size="6.6" font-weight="normal" text-anchor="end" fill="#222" textLength="9.20" lengthAdjust="spacingAndGlyphs" >0.8</text>
<line x1="34.50" y1="443.30" x2="37.70" y2="443.30" stroke="#000" stroke-width="1.1" />
<text x="31.70" y="445.60" font-size="6.6" font-weight="normal" text-anchor="end" fill="#222" textLength="9.20" lengthAdjust="spacingAndGlyphs" >1.0</text>
<line x1="37.70" y1="526.70" x2="37.70" y2="530.30" stroke="#000" stroke-width="1.1" />
<text x="37.70" y="538.80" font-size="6.8" font-weight="normal" text-anchor="middle" fill="#222" textLength="4.20" lengthAdjust="spacingAndGlyphs" >0</text>
<line x1="61.90" y1="526.70" x2="61.90" y2="530.30" stroke="#000" stroke-width="1.1" />
<text x="61.90" y="538.80" font-size="6.8" font-weight="normal" text-anchor="middle" fill="#222" textLength="7.80" lengthAdjust="spacingAndGlyphs" >20</text>
<line x1="86.10" y1="526.70" x2="86.10" y2="530.30" stroke="#000" stroke-width="1.1" />
<text x="86.10" y="538.80" font-size="6.8" font-weight="normal" text-anchor="middle" fill="#222" textLength="7.80" lengthAdjust="spacingAndGlyphs" >40</text>
<line x1="110.30" y1="526.70" x2="110.30" y2="530.30" stroke="#000" stroke-width="1.1" />
<text x="110.30" y="538.80" font-size="6.8" font-weight="normal" text-anchor="middle" fill="#222" textLength="7.80" lengthAdjust="spacingAndGlyphs" >60</text>
<line x1="134.50" y1="526.70" x2="134.50" y2="530.30" stroke="#000" stroke-width="1.1" />
<text x="134.50" y="538.80" font-size="6.8" font-weight="normal" text-anchor="middle" fill="#222" textLength="7.80" lengthAdjust="spacingAndGlyphs" >80</text>
<line x1="158.70" y1="526.70" x2="158.70" y2="530.30" stroke="#000" stroke-width="1.1" />
<text x="158.70" y="538.80" font-size="6.8" font-weight="normal" text-anchor="middle" fill="#222" textLength="11.00" lengthAdjust="spacingAndGlyphs" >100</text>
<text x="16.00" y="485.60" font-size="7.8" font-weight="normal" text-anchor="middle" fill="#222" textLength="31.80" lengthAdjust="spacingAndGlyphs" transform="rotate(-90 16.00 485.60)" stroke="#222" stroke-width="0.08">Frequency</text>
<text x="98.00" y="550.80" font-size="8.8" font-weight="normal" text-anchor="middle" fill="#222" textLength="34.50" lengthAdjust="spacingAndGlyphs" stroke="#222" stroke-width="0.25">Generation</text>
<rect x="175.70" y="426.60" width="159.60" height="148.80" fill="#fff" stroke="#4a4a4a" stroke-width="1.3" />
<rect x="175.70" y="559.30" width="159.60" height="16.10" fill="#e5b7b1" stroke="#3d3d3d" stroke-width="1.2" />
<text x="255.50" y="570.70" font-size="8.6" font-weight="normal" text-anchor="middle" fill="#1e1e1e" textLength="88.70" lengthAdjust="spacingAndGlyphs" stroke="#1e1e1e" stroke-width="0.2">Neutral (α=0) - Outlier</text>
<text x="216.70" y="440.30" font-size="9.2" font-weight="normal" text-anchor="start" fill="#1a1a1a" textLength="93.70" lengthAdjust="spacingAndGlyphs" >100 cells, Index = 0.938</text>
<rect x="206.30" y="443.40" width="121.40" height="83.00" fill="#b2cde2" stroke="none" stroke-width="1.0" />
<svg x="206.3" y="443.4" width="121.39999999999998" height="83.0" viewBox="206.3 443.4 121.39999999999998 83.0" overflow="hidden">
<polygon points="210.2,523.3 213.3,520.2 216.3,517.2 219.4,512.5 222.5,509.4 225.6,508.7 227.1,512.5 229.5,516.4 231.8,519.5 227.1,520.2 222.5,519.5 219.4,520.2 216.3,521.0 213.3,522.6" fill="#4577b5" stroke="none" stroke-width="0.5" />
<polygon points="227.1,501.7 230.2,499.4 234.9,501.7 238.0,501.0 241.0,500.2 244.1,501.0 245.7,499.4 248.8,497.1 250.3,498.6 253.4,501.0 256.5,503.3 258.8,500.2 261.9,498.6 264.2,497.9 267.1,497.1 270.2,498.6 273.3,504.8 276.3,507.9 281.0,514.1 277.9,516.4 273.3,515.6 268.0,515.6 262.6,514.1 256.5,512.5 251.8,511.0 247.2,509.4 241.0,509.4 234.9,511.8 231.8,511.0 227.1,504.8" fill="#8cb99c" stroke="none" stroke-width="0.5" />
<polygon points="251.8,511.0 256.5,507.9 259.6,506.4 262.6,508.7 261.1,510.2 256.5,511.0" fill="#e86a6a" stroke="none" stroke-width="0.5" />
<polygon points="241.0,497.1 244.1,490.9 245.7,484.8 248.8,483.2 250.3,486.3 253.4,489.4 257.2,488.6 260.3,490.2 256.5,491.7 253.4,494.8 250.3,492.5 247.2,495.6" fill="#6aab40" stroke="none" stroke-width="0.5" />
<polygon points="254.9,475.5 258.0,472.4 261.1,470.1 264.2,467.8 267.1,467.0 270.2,470.9 273.3,477.0 277.9,487.8 273.3,484.8 268.6,481.7 264.2,484.0 261.1,478.6 256.5,478.6" fill="#e25a5a" stroke="none" stroke-width="0.5" />
<polygon points="270.2,465.5 273.3,464.7 277.9,462.4 282.5,459.3 287.1,457.0 290.2,459.3 291.8,462.4 293.3,466.2 294.9,467.8 296.4,463.1 301.0,455.4 304.9,448.5 307.2,446.2 309.5,451.6 311.8,448.5 314.9,446.2 318.8,445.4 324.2,444.6 327.3,443.9 327.7,443.4 327.7,526.4 326.5,525.6 322.6,524.9 319.6,518.7 317.2,514.8 313.4,512.5 310.3,511.0 308.8,504.8 307.2,512.5 304.1,514.1 301.0,515.6 298.7,511.0 297.2,503.3 294.9,501.7 292.5,497.1 289.5,492.5 287.1,498.6 285.6,492.5 282.5,484.8 279.4,489.4 278.7,483.2 276.3,477.0 273.3,470.9" fill="#e8894a" stroke="none" stroke-width="0.5" />
<polygon points="279.4,483.2 283.0,478.0 286.0,482.0 289.0,486.0 288.0,492.0 285.6,490.0 282.5,486.0" fill="#e0861e" stroke="none" stroke-width="0.5" />
<polygon points="294.9,446.2 299.5,445.4 305.7,444.6 302.6,449.3 299.5,455.4 296.4,460.1 294.9,457.0 293.3,453.9" fill="#7a5cb0" stroke="none" stroke-width="0.5" />
<polygon points="288.7,453.1 293.3,453.9 294.9,457.0 296.4,460.1 293.0,459.0" fill="#b9a5d6" stroke="none" stroke-width="0.5" />
<polygon points="294.9,481.7 299.5,489.4 304.1,484.8 308.8,478.6 313.4,480.9 316.5,481.7 310.3,481.7 305.7,485.5 301.0,490.9 298.0,489.4" fill="#6e5aa8" stroke="none" stroke-width="0.5" />
<polygon points="316.5,467.0 322.6,466.2 327.3,468.5 322.6,470.1 318.0,468.5" fill="#f3ef9e" stroke="none" stroke-width="0.5" />
<polyline points="208.5,525.0 212.0,521.0 216.5,515.8 222.3,503.0 225.8,499.6 228.0,498.4 232.7,495.0 237.3,498.4 240.8,496.1 243.1,493.8 244.2,488.1 246.5,481.1 248.8,475.4 250.6,471.9 253.4,478.8 255.7,475.4 258.0,472.4 262.0,469.0 266.0,467.0 270.2,465.5" fill="none" stroke="#9aa6b2" stroke-width="1.6" stroke-linejoin="round" />
<polyline points="209.7,526.0 213.2,522.0 217.7,516.8 223.5,504.0 227.0,500.6 229.2,499.4 233.9,496.0 238.5,499.4 242.0,497.1 244.3,494.8 245.4,489.1 247.7,482.1" fill="none" stroke="#8d9aa6" stroke-width="0.6" stroke-linejoin="round" />
<polyline points="210.9,527.0 214.4,523.0 218.9,517.8 224.7,505.0 228.2,501.6 230.4,500.4 235.1,497.0 239.7,500.4 243.2,498.1 245.5,495.8" fill="none" stroke="#a9c39a" stroke-width="0.6" stroke-linejoin="round" />
<polyline points="216.0,517.0 219.0,513.0 222.0,516.0 225.0,512.0 228.0,515.0" fill="none" stroke="#d8e2ee" stroke-width="0.6" stroke-linejoin="round" />
<polyline points="312.0,477.0 316.0,474.0 320.0,470.0 323.0,462.0 326.0,456.0 327.5,448.0" fill="none" stroke="#c9a65a" stroke-width="0.6" stroke-linejoin="round" stroke-dasharray="1.2 1.2"/>
</svg>
<rect x="206.30" y="443.40" width="121.40" height="83.00" fill="none" stroke="#000" stroke-width="1.5" />
<line x1="203.10" y1="526.40" x2="206.30" y2="526.40" stroke="#000" stroke-width="1.1" />
<text x="203.70" y="528.70" font-size="6.6" font-weight="normal" text-anchor="end" fill="#222" textLength="9.20" lengthAdjust="spacingAndGlyphs" >0.0</text>
<line x1="203.10" y1="509.80" x2="206.30" y2="509.80" stroke="#000" stroke-width="1.1" />
<text x="203.70" y="512.10" font-size="6.6" font-weight="normal" text-anchor="end" fill="#222" textLength="9.20" lengthAdjust="spacingAndGlyphs" >0.2</text>
<line x1="203.10" y1="493.20" x2="206.30" y2="493.20" stroke="#000" stroke-width="1.1" />
<text x="203.70" y="495.50" font-size="6.6" font-weight="normal" text-anchor="end" fill="#222" textLength="9.20" lengthAdjust="spacingAndGlyphs" >0.4</text>
<line x1="203.10" y1="476.60" x2="206.30" y2="476.60" stroke="#000" stroke-width="1.1" />
<text x="203.70" y="478.90" font-size="6.6" font-weight="normal" text-anchor="end" fill="#222" textLength="9.20" lengthAdjust="spacingAndGlyphs" >0.6</text>
<line x1="203.10" y1="460.00" x2="206.30" y2="460.00" stroke="#000" stroke-width="1.1" />
<text x="203.70" y="462.30" font-size="6.6" font-weight="normal" text-anchor="end" fill="#222" textLength="9.20" lengthAdjust="spacingAndGlyphs" >0.8</text>
<line x1="203.10" y1="443.40" x2="206.30" y2="443.40" stroke="#000" stroke-width="1.1" />
<text x="203.70" y="445.70" font-size="6.6" font-weight="normal" text-anchor="end" fill="#222" textLength="9.20" lengthAdjust="spacingAndGlyphs" >1.0</text>
<line x1="206.30" y1="526.40" x2="206.30" y2="530.00" stroke="#000" stroke-width="1.1" />
<text x="206.30" y="538.60" font-size="6.8" font-weight="normal" text-anchor="middle" fill="#222" textLength="4.20" lengthAdjust="spacingAndGlyphs" >0</text>
<line x1="230.58" y1="526.40" x2="230.58" y2="530.00" stroke="#000" stroke-width="1.1" />
<text x="230.58" y="538.60" font-size="6.8" font-weight="normal" text-anchor="middle" fill="#222" textLength="7.80" lengthAdjust="spacingAndGlyphs" >20</text>
<line x1="254.86" y1="526.40" x2="254.86" y2="530.00" stroke="#000" stroke-width="1.1" />
<text x="254.86" y="538.60" font-size="6.8" font-weight="normal" text-anchor="middle" fill="#222" textLength="7.80" lengthAdjust="spacingAndGlyphs" >40</text>
<line x1="279.14" y1="526.40" x2="279.14" y2="530.00" stroke="#000" stroke-width="1.1" />
<text x="279.14" y="538.60" font-size="6.8" font-weight="normal" text-anchor="middle" fill="#222" textLength="7.80" lengthAdjust="spacingAndGlyphs" >60</text>
<line x1="303.42" y1="526.40" x2="303.42" y2="530.00" stroke="#000" stroke-width="1.1" />
<text x="303.42" y="538.60" font-size="6.8" font-weight="normal" text-anchor="middle" fill="#222" textLength="7.80" lengthAdjust="spacingAndGlyphs" >80</text>
<line x1="327.70" y1="526.40" x2="327.70" y2="530.00" stroke="#000" stroke-width="1.1" />
<text x="327.70" y="538.60" font-size="6.8" font-weight="normal" text-anchor="middle" fill="#222" textLength="11.00" lengthAdjust="spacingAndGlyphs" >100</text>
<text x="188.00" y="485.50" font-size="7.8" font-weight="normal" text-anchor="middle" fill="#222" textLength="31.80" lengthAdjust="spacingAndGlyphs" transform="rotate(-90 188.00 485.50)" stroke="#222" stroke-width="0.08">Frequency</text>
<text x="267.00" y="550.60" font-size="8.8" font-weight="normal" text-anchor="middle" fill="#222" textLength="34.50" lengthAdjust="spacingAndGlyphs" stroke="#222" stroke-width="0.25">Generation</text>
<rect x="0.50" y="0.50" width="519.00" height="582.00" fill="none" stroke="#000" stroke-width="1.3" />
</svg>
</body></html>
